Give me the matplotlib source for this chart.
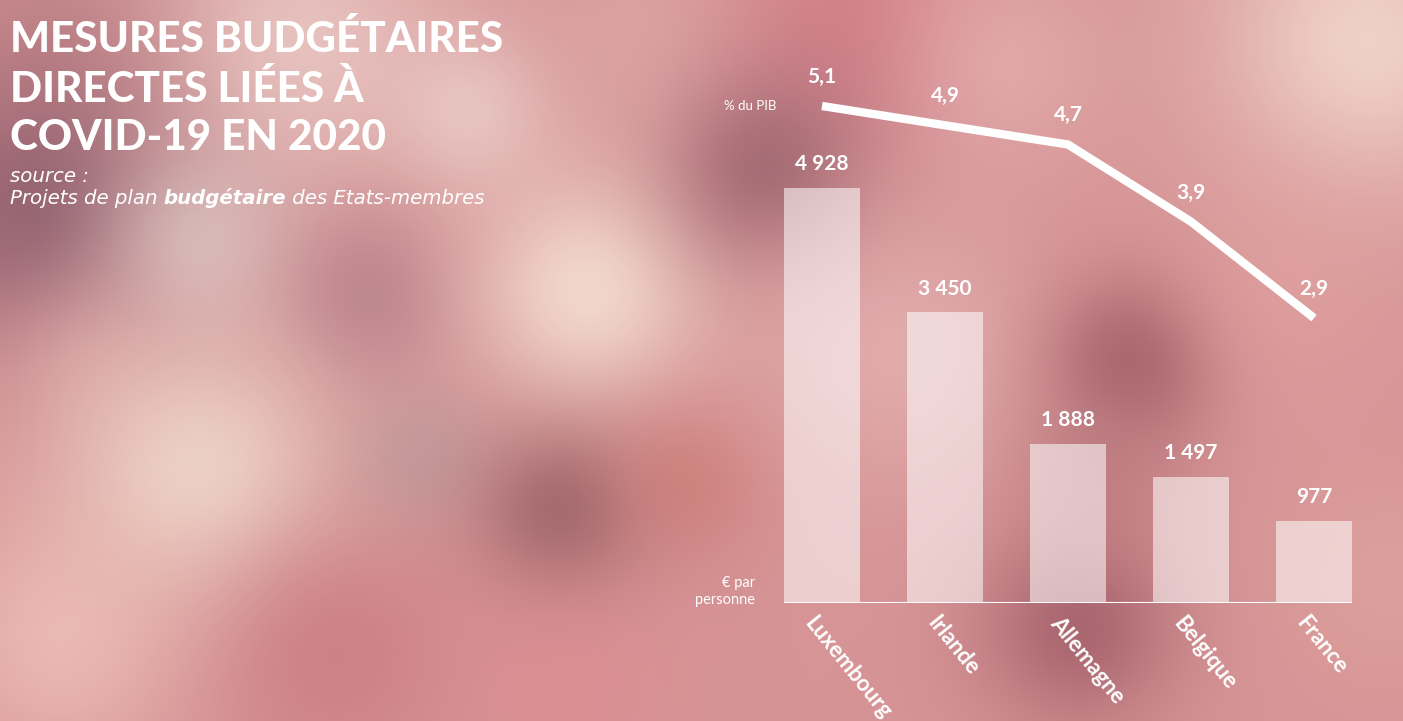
import numpy as np
import matplotlib.pyplot as plt

countries = ["Luxembourg", "Irlande", "Allemagne", "Belgique", "France"]
eur_per_person = [4928, 3450, 1888, 1497, 977]
pct_gdp = [5.1, 4.9, 4.7, 3.9, 2.9]

W, H = 1403, 721
fig = plt.figure(figsize=(W / 100, H / 100), dpi=100)
renderer = fig.canvas.get_renderer()


def fx(x):
    return x / W


def fy(y):
    return 1 - y / H


def fit_width(t, target):
    # ajuste la taille de police pour obtenir la largeur voulue (en px)
    w = t.get_window_extent(renderer).width
    t.set_fontsize(t.get_fontsize() * target / w)


# photo floue rose en fond (x, y, sigma, couleur, force)
blobs = [
    (60, 40, 90, (185, 125, 130), 0.6),
    (300, 40, 100, (235, 205, 200), 0.8),
    (470, 110, 60, (240, 222, 215), 0.6),
    (650, 40, 80, (225, 175, 175), 0.5),
    (40, 210, 100, (145, 95, 110), 0.95),
    (200, 240, 70, (222, 202, 198), 0.7),
    (370, 300, 60, (180, 125, 135), 0.8),
    (590, 290, 85, (242, 215, 205), 1.0),
    (90, 370, 60, (222, 165, 165), 0.6),
    (200, 480, 100, (240, 218, 205), 0.9),
    (420, 460, 50, (185, 155, 155), 0.6),
    (560, 515, 60, (155, 100, 105), 0.9),
    (690, 480, 60, (200, 115, 108), 0.55),
    (60, 640, 90, (240, 195, 185), 0.75),
    (330, 650, 90, (200, 118, 128), 0.7),
    (560, 690, 80, (222, 140, 145), 0.6),
    (860, 30, 80, (208, 115, 128), 0.7),
    (1000, 60, 80, (232, 180, 180), 0.6),
    (1370, 40, 110, (242, 215, 205), 0.9),
    (770, 170, 70, (155, 98, 108), 0.85),
    (900, 350, 100, (232, 185, 185), 0.6),
    (1140, 360, 60, (155, 88, 98), 0.9),
    (1100, 470, 60, (180, 115, 120), 0.5),
    (1270, 300, 90, (228, 165, 162), 0.5),
    (1080, 630, 70, (160, 92, 102), 0.8),
    (1390, 580, 80, (225, 170, 160), 0.5),
]
gh, gw = 181, 351
yy, xx = np.mgrid[0:H:gh * 1j, 0:W:gw * 1j]
img = np.ones((gh, gw, 3)) * np.array([214, 148, 150]) / 255
for bx, by, s, c, a in blobs:
    w = a * np.exp(-((xx - bx) ** 2 + (yy - by) ** 2) / (2 * s * s))
    img = img * (1 - w[..., None]) + np.array(c) / 255 * w[..., None]
bg = fig.add_axes([0, 0, 1, 1])
bg.imshow(img, extent=[0, W, H, 0], aspect="auto", interpolation="bilinear")
bg.axis("off")

# barres : euros par personne
ax = fig.add_axes([fx(760.5), fy(603), 615 / W, 543 / H])
ax.patch.set_alpha(0)
x = np.arange(len(countries))
bw = 0.626
ax.bar(x, eur_per_person, width=bw, color="white", alpha=0.55)
ax.hlines(0, x[0] - bw / 2, x[-1] + bw / 2, color="white", lw=1.5)
ax.set_xlim(-0.5, 4.5)
ax.set_ylim(0, 6448)
ax.axis("off")
for i, v in enumerate(eur_per_person):
    ax.annotate(f"{v:,}".replace(",", " "), (i, v), xytext=(0, 17),
                textcoords="offset points", ha="center", va="center",
                color="white", fontsize=15, fontweight="bold", family="Lato")
    ax.annotate(countries[i], (i, 0), xytext=(-4, -7), textcoords="offset points",
                ha="left", va="top", rotation=-51, rotation_mode="anchor",
                color="white", fontsize=16, fontweight="bold", family="Lato",
                annotation_clip=False)

# ligne : % du PIB
ax2 = fig.add_axes([fx(760.5), fy(603), 615 / W, 543 / H], sharex=ax)
ax2.patch.set_alpha(0)
ax2.plot(x, pct_gdp, color="white", lw=6, solid_capstyle="butt", solid_joinstyle="miter")
ax2.set_ylim(-0.056, 5.577)
ax2.axis("off")
for i, v in enumerate(pct_gdp):
    ax2.annotate(f"{v:.1f}".replace(".", ","), (i, v), xytext=(0, 21),
                 textcoords="offset points", ha="center", va="center",
                 color="white", fontsize=15, fontweight="bold", family="Lato")

fig.text(fx(776), fy(106), "% du PIB", ha="right", va="center", color="white",
         fontsize=9.5, family="Lato")
fig.text(fx(755), fy(583), "€ par", ha="right", va="center", color="white",
         fontsize=10.5, family="Lato")
fig.text(fx(755), fy(600), "personne", ha="right", va="center", color="white",
         fontsize=10.5, family="Lato")

# titre
titles = ["MESURES BUDGÉTAIRES", "DIRECTES LIÉES À", "COVID-19 EN 2020"]
tt = [fig.text(fx(10), fy(40 + 49 * k), line, ha="left", va="center", color="white",
               fontsize=29, fontweight="black", family="Lato")
      for k, line in enumerate(titles)]
fit_width(tt[0], 492)
for t in tt[1:]:
    t.set_fontsize(tt[0].get_fontsize())

src = fig.text(fx(10), fy(176), "source :", ha="left", va="center", color="white",
               fontsize=13, style="italic", family="DejaVu Sans")
parts = [("Projets de plan ", "normal"), ("budgétaire", "bold"),
         (" des Etats-membres", "normal")]
probe = fig.text(0, 0, "".join(p for p, _ in parts), fontsize=13, style="italic",
                 family="DejaVu Sans")
fit_width(probe, 458)
fs = probe.get_fontsize()
probe.remove()
src.set_fontsize(fs)
xpos = 10
for part, weight in parts:
    t = fig.text(fx(xpos), fy(198), part, ha="left", va="center", color="white",
                 fontsize=fs, style="italic", fontweight=weight, family="DejaVu Sans")
    xpos += t.get_window_extent(renderer).width

fig.savefig("out.png", dpi=100)
